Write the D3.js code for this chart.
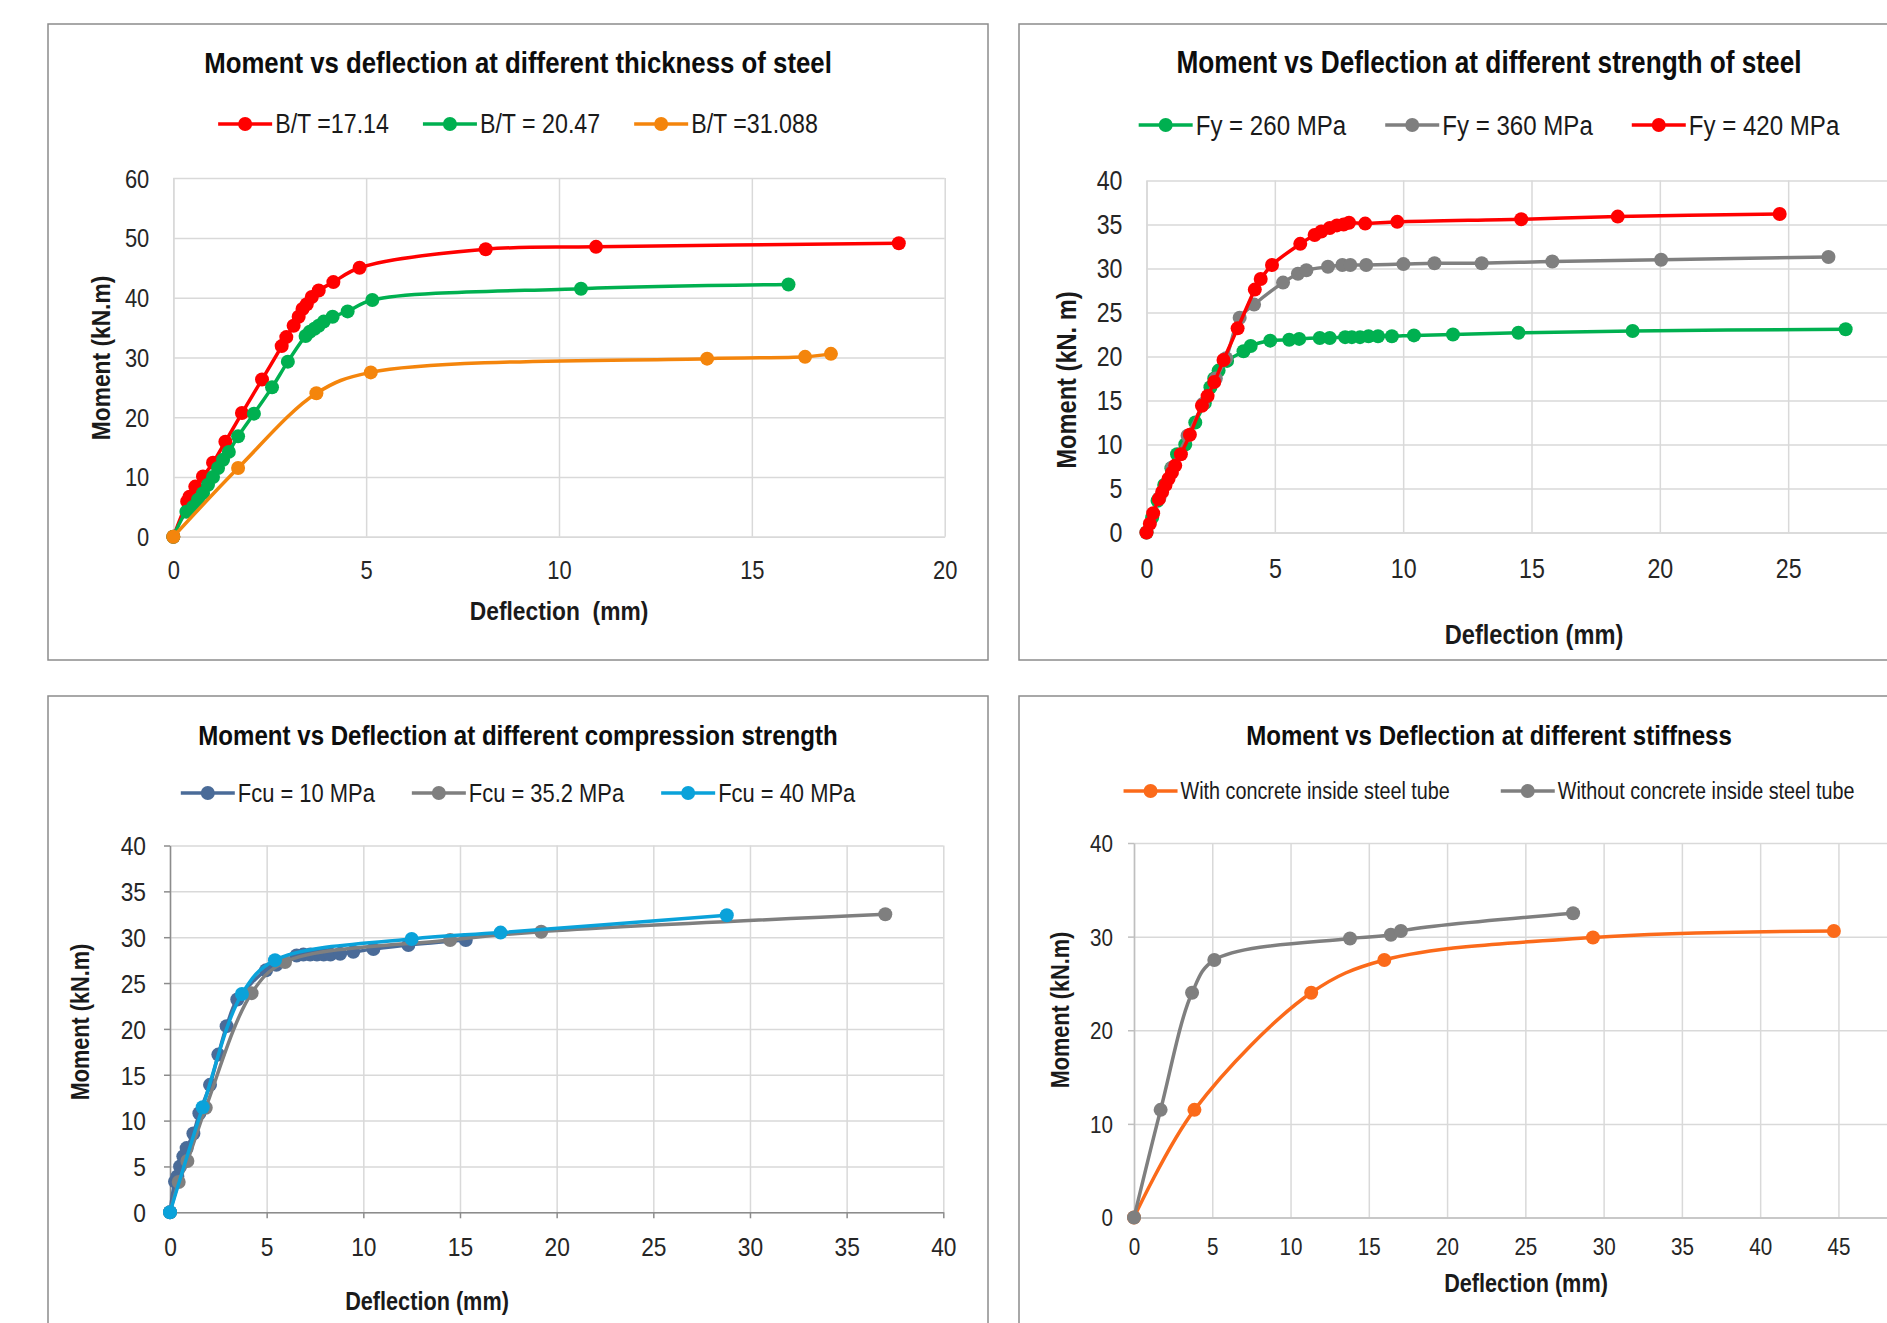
<!DOCTYPE html>
<html>
<head>
<meta charset="utf-8">
<script src="https://cdn.jsdelivr.net/npm/d3@7"></script>
<style>
    body { margin: 0; background: #fff; }
    svg { display: block; }
    text { font-family: "Liberation Sans", Arial, sans-serif; fill: #1a1a1a; }
</style>
</head>
<body>
<svg id="chart" width="1887" height="1323"></svg>
<script>
// --- data: [deflection (mm), moment (kN.m)] ---

// thickness of steel
const bt1714 = [[0,0],[0.36,5.9],[0.42,6.7],[0.57,8.4],[0.77,10.1],[1.03,12.4],[1.35,15.9],[1.78,20.7],[2.3,26.3],[2.81,31.9],[2.93,33.4],[3.12,35.3],[3.25,36.8],[3.35,38.1],[3.46,38.9],[3.59,40.1],[3.77,41.2],[4.15,42.6],[4.83,45.0],[8.1,48.1],[10.96,48.5],[18.81,49.1]];
const bt2047 = [[0,0],[0.34,4.2],[0.51,5.0],[0.64,6.2],[0.77,7.3],[0.9,8.7],[1.03,10.0],[1.16,11.5],[1.29,12.9],[1.44,14.2],[1.68,16.8],[2.09,20.6],[2.56,25.0],[2.97,29.3],[3.43,33.6],[3.54,34.3],[3.66,34.8],[3.77,35.3],[3.9,36.0],[4.13,36.8],[4.52,37.7],[5.16,39.6],[10.57,41.5],[15.95,42.2]];
const bt31088 = [[0,0],[1.68,11.5],[3.71,24.0],[5.12,27.5],[13.84,29.8],[16.38,30.1],[17.05,30.6]];

// strength of steel
const fy260 = [[0,0],[0.22,1.7],[0.43,3.6],[0.69,5.4],[0.97,7.3],[1.19,8.9],[1.51,10.0],[1.9,12.5],[2.27,14.7],[2.49,16.5],[2.64,17.5],[2.81,18.4],[3.14,19.5],[3.78,20.6],[4.06,21.2],[4.82,21.8],[5.56,21.9],[5.95,22.0],[6.75,22.1],[7.14,22.1],[7.74,22.2],[8.0,22.2],[8.32,22.2],[8.65,22.3],[9.02,22.3],[9.56,22.3],[10.42,22.4],[11.94,22.5],[14.49,22.7],[18.94,22.9],[27.24,23.1]];
const fy360 = [[0,0],[0.5,3.9],[1.0,7.4],[1.6,11.0],[2.2,14.6],[2.7,17.5],[3.1,19.8],[3.63,24.4],[4.19,25.9],[5.32,28.4],[5.9,29.4],[6.23,29.8],[7.07,30.2],[7.63,30.4],[7.94,30.4],[8.56,30.4],[10.01,30.5],[11.22,30.6],[13.06,30.6],[15.81,30.8],[20.05,31.0],[26.57,31.3]];
const fy420 = [[0,0],[0.13,1.0],[0.26,2.2],[0.48,3.8],[0.61,4.6],[0.74,5.4],[0.86,6.1],[0.99,6.8],[1.12,7.6],[1.34,8.9],[1.69,11.1],[2.16,14.4],[2.38,15.5],[2.64,17.1],[3.0,19.6],[3.55,23.2],[4.22,27.6],[4.45,28.8],[4.89,30.4],[5.99,32.8],[6.55,33.8],[6.81,34.2],[7.14,34.6],[7.42,34.9],[7.68,35.0],[7.89,35.2],[8.52,35.1],[9.77,35.3],[14.6,35.6],[18.36,35.9],[24.67,36.2]];

// compression strength
const fcu10 = [[0,0],[0.26,3.35],[0.38,3.9],[0.52,5.0],[0.69,6.1],[0.86,7.0],[1.21,8.6],[1.52,10.8],[2.07,13.9],[2.5,17.2],[2.93,20.3],[3.48,23.2],[4.97,26.4],[5.5,27.0],[6.55,28.0],[6.9,28.1],[7.25,28.1],[7.6,28.1],[7.95,28.1],[8.3,28.1],[8.8,28.2],[9.48,28.4],[10.52,28.7],[12.33,29.15],[15.3,29.7]];
const fcu352 = [[0,0],[0.45,3.3],[0.9,5.6],[1.85,11.4],[4.22,23.9],[5.95,27.3],[14.49,29.7],[19.2,30.6],[37.0,32.5]];
const fcu40 = [[0,0],[1.69,11.45],[3.72,23.8],[5.43,27.5],[12.5,29.8],[17.1,30.5],[28.8,32.4]];

// stiffness
const withConcrete = [[0,0],[3.86,11.5],[11.32,24.0],[15.99,27.5],[29.32,29.9],[44.71,30.6]];
const withoutConcrete = [[0,0],[1.7,11.5],[3.71,24.0],[5.13,27.5],[13.8,29.8],[16.41,30.2],[17.05,30.6],[28.05,32.5]];

// the reference uses a narrow face; squeeze Liberation Sans horizontally
const SX = 0.86;
const W = 1887;

const panels = [
    {
        box: [48, 24, 940, 636],
        plot: { left: 173.3, right: 944.7, top: 178.1, bottom: 536.8 },
        xMax: 20, xStep: 5, yMax: 60, yStep: 10,
        axisColor: "#d9d9d9", yTicks: false, xTicks: false,
        title: "Moment vs deflection at different thickness of steel", titleSize: 30,
        legendY: 124, legendSize: 27, legendGap: 34,
        series: [
            { name: "B/T =17.14", data: bt1714, color: "#ff0000" },
            { name: "B/T = 20.47", data: bt2047, color: "#00b050" },
            { name: "B/T =31.088", data: bt31088, color: "#f4850c" }
        ],
        tickSize: 25.5, labelSize: 26.5,
        yLabel: "Moment (kN.m)", yLabelPos: [101, 358],
        xLabel: "Deflection  (mm)", xLabelPos: [559, 611],
        xTickY: 33, yTickGap: 24
    },
    {
        box: [1019, 24, 940, 636],
        plot: { left: 1146.5, right: 1916.5, top: 180.5, bottom: 532.5 },
        xMax: 30, xStep: 5, yMax: 40, yStep: 5,
        axisColor: "#d9d9d9", yTicks: false, xTicks: false,
        title: "Moment vs Deflection at different strength of steel", titleSize: 30.5,
        legendY: 125, legendSize: 28, legendGap: 39,
        series: [
            { name: "Fy = 260 MPa", data: fy260, color: "#00b050" },
            { name: "Fy = 360 MPa", data: fy360, color: "#7f7f7f" },
            { name: "Fy = 420 MPa", data: fy420, color: "#ff0000" }
        ],
        tickSize: 27, labelSize: 27.5,
        yLabel: "Moment (kN. m)", yLabelPos: [1066, 380],
        xLabel: "Deflection (mm)", xLabelPos: [1534, 634],
        xTickY: 36, yTickGap: 24
    },
    {
        box: [48, 696, 940, 636],
        plot: { left: 170, right: 943.3, top: 845.5, bottom: 1212.3 },
        xMax: 40, xStep: 5, yMax: 40, yStep: 5,
        axisColor: "#8c8c8c", yTicks: true, xTicks: true,
        title: "Moment vs Deflection at different compression strength", titleSize: 28,
        legendY: 793, legendSize: 25.5, legendGap: 37,
        series: [
            { name: "Fcu = 10 MPa", data: fcu10, color: "#4a6b98" },
            { name: "Fcu = 35.2 MPa", data: fcu352, color: "#7f7f7f" },
            { name: "Fcu = 40 MPa", data: fcu40, color: "#0aa2da" }
        ],
        tickSize: 26.5, labelSize: 25.2,
        yLabel: "Moment (kN.m)", yLabelPos: [80, 1022],
        xLabel: "Deflection (mm)", xLabelPos: [427, 1301],
        xTickY: 34, yTickGap: 24
    },
    {
        box: [1019, 696, 940, 636],
        plot: { left: 1134, right: 1916.7, top: 843, bottom: 1217.5 },
        xMax: 50, xStep: 5, yMax: 40, yStep: 10,
        axisColor: "#bfbfbf", yTicks: true, xTicks: false,
        title: "Moment vs Deflection at different stiffness", titleSize: 28,
        legendY: 791, legendSize: 23, legendGap: 51,
        series: [
            { name: "With concrete inside steel tube", data: withConcrete, color: "#fb6a1a" },
            { name: "Without concrete inside steel tube", data: withoutConcrete, color: "#7f7f7f" }
        ],
        tickSize: 24, labelSize: 25.2,
        yLabel: "Moment (kN.m)", yLabelPos: [1060, 1010],
        xLabel: "Deflection (mm)", xLabelPos: [1526, 1283],
        xTickY: 29, yTickGap: 21
    }
];

const svg = d3.select("#chart");

panels.forEach(drawPanel);

function drawPanel(p) {
    const g = svg.append("g");
    const [bx, by, bw, bh] = p.box;

    g.append("rect")
        .attr("x", bx).attr("y", by)
        .attr("width", bw).attr("height", bh)
        .attr("fill", "#fff")
        .attr("stroke", "#8c8c8c")
        .attr("stroke-width", 1.5);

    const x = d3.scaleLinear().domain([0, p.xMax]).range([p.plot.left, p.plot.right]);
    const y = d3.scaleLinear().domain([0, p.yMax]).range([p.plot.bottom, p.plot.top]);
    const xTicks = d3.range(0, p.xMax + 0.001, p.xStep);
    const yTicks = d3.range(0, p.yMax + 0.001, p.yStep);

    // gridlines
    g.append("g")
        .attr("transform", `translate(0,${p.plot.bottom})`)
        .call(d3.axisBottom(x).tickValues(xTicks).tickSize(-(p.plot.bottom - p.plot.top)).tickFormat(""))
        .call(a => a.select(".domain").remove())
        .call(a => a.selectAll("line").attr("stroke", "#d9d9d9").attr("stroke-width", 1.5));

    g.append("g")
        .attr("transform", `translate(${p.plot.left},0)`)
        .call(d3.axisLeft(y).tickValues(yTicks).tickSize(-(p.plot.right - p.plot.left)).tickFormat(""))
        .call(a => a.select(".domain").remove())
        .call(a => a.selectAll("line").attr("stroke", "#d9d9d9").attr("stroke-width", 1.5));

    // axes (labels beyond the window edge are not in the picture)
    const xAxis = g.append("g")
        .attr("transform", `translate(0,${p.plot.bottom})`)
        .call(d3.axisBottom(x).tickValues(xTicks).tickSize(p.xTicks ? 6 : 0).tickSizeOuter(0));
    xAxis.select(".domain").attr("stroke", p.axisColor).attr("stroke-width", 1.5);
    xAxis.selectAll("line").attr("stroke", p.axisColor).attr("stroke-width", 1.5);
    xAxis.selectAll(".tick").filter(d => x(d) + 10 > W).select("text").remove();
    xAxis.selectAll("text")
        .attr("x", 0).attr("y", 0).attr("dy", "0.35em")
        .attr("transform", `translate(0,${p.xTickY}) scale(${SX},1)`)
        .style("font-size", p.tickSize + "px").style("fill", "#262626");

    const yAxis = g.append("g")
        .attr("transform", `translate(${p.plot.left},0)`)
        .call(d3.axisLeft(y).tickValues(yTicks).tickSize(p.yTicks ? 6 : 0).tickSizeOuter(0));
    yAxis.select(".domain").attr("stroke", p.axisColor).attr("stroke-width", 1.5);
    yAxis.selectAll("line").attr("stroke", p.axisColor).attr("stroke-width", 1.5);
    yAxis.selectAll("text")
        .attr("x", 0).attr("dy", "0.35em")
        .attr("transform", `translate(${-p.yTickGap},0) scale(${SX},1)`)
        .style("font-size", p.tickSize + "px").style("fill", "#262626");

    // series
    const line = d3.line()
        .x(d => x(d[0]))
        .y(d => y(d[1]))
        .curve(d3.curveCatmullRom.alpha(0.5));

    p.series.forEach(s => {
        g.append("path")
            .datum(s.data)
            .attr("fill", "none")
            .attr("stroke", s.color)
            .attr("stroke-width", 3.5)
            .attr("d", line);

        g.append("g").selectAll("circle")
            .data(s.data)
            .join("circle")
            .attr("cx", d => x(d[0]))
            .attr("cy", d => y(d[1]))
            .attr("r", 7)
            .attr("fill", s.color);
    });

    // title
    g.append("text")
        .attr("transform", `translate(${bx + bw / 2},${by + 49}) scale(${SX},1)`)
        .attr("text-anchor", "middle")
        .style("font-size", p.titleSize + "px")
        .style("font-weight", "bold")
        .style("fill", "#0d0d0d")
        .text(p.title);

    // legend, centred on the panel
    const legend = g.append("g");
    let cursor = 0;
    p.series.forEach(s => {
        const item = legend.append("g").attr("transform", `translate(${cursor},0)`);
        item.append("line")
            .attr("x1", 0).attr("x2", 54)
            .attr("y1", 0).attr("y2", 0)
            .attr("stroke", s.color)
            .attr("stroke-width", 3.5);
        item.append("circle")
            .attr("cx", 27).attr("cy", 0).attr("r", 7)
            .attr("fill", s.color);
        const t = item.append("text")
            .attr("transform", `translate(57,0) scale(${SX},1)`)
            .attr("dy", "0.35em")
            .style("font-size", p.legendSize + "px")
            .text(s.name);
        cursor += 57 + t.node().getComputedTextLength() * SX + p.legendGap;
    });
    cursor -= p.legendGap;
    legend.attr("transform", `translate(${bx + bw / 2 - cursor / 2},${p.legendY})`);

    // axis titles
    g.append("text")
        .attr("transform", `translate(${p.yLabelPos[0]},${p.yLabelPos[1]}) rotate(-90) scale(${SX},1)`)
        .attr("text-anchor", "middle")
        .attr("dy", "0.35em")
        .style("font-size", p.labelSize + "px")
        .style("font-weight", "bold")
        .text(p.yLabel);

    g.append("text")
        .attr("transform", `translate(${p.xLabelPos[0]},${p.xLabelPos[1]}) scale(${SX},1)`)
        .attr("text-anchor", "middle")
        .attr("dy", "0.35em")
        .style("font-size", p.labelSize + "px")
        .style("font-weight", "bold")
        .style("white-space", "pre")
        .text(p.xLabel);
}
</script>
</body>
</html>
